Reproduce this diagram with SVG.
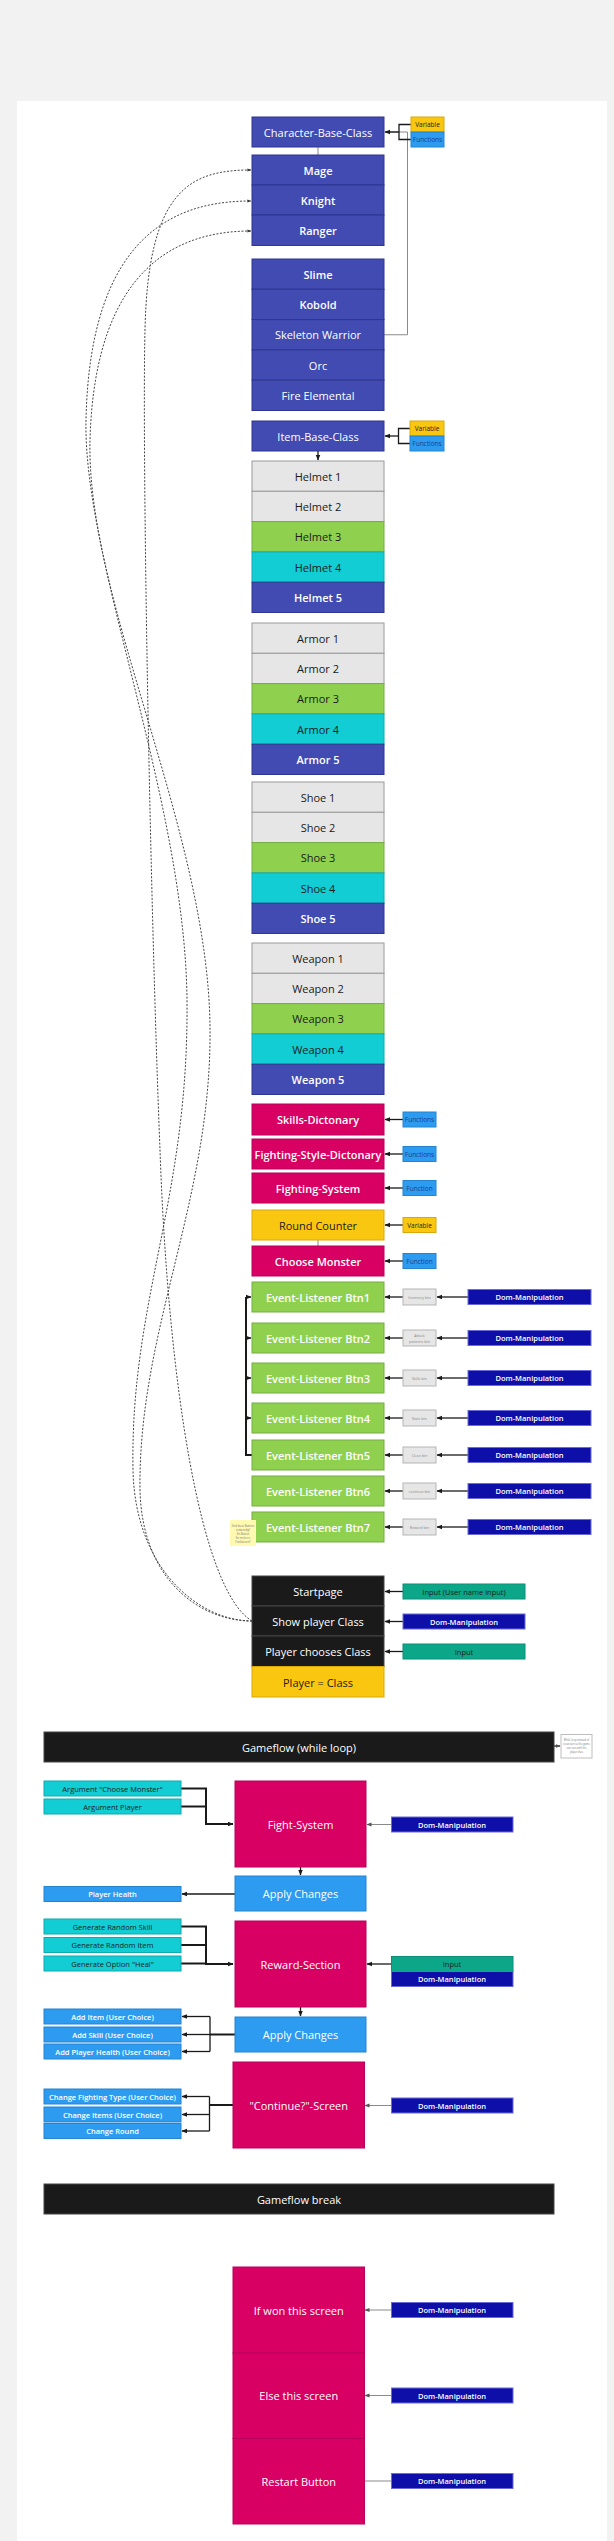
<svg xmlns="http://www.w3.org/2000/svg" width="614" height="2541" viewBox="0 0 614 2541">
<style>
text{font-family:"Open Sans","Liberation Sans",sans-serif;text-anchor:middle;dominant-baseline:central}
.s11{font-size:11px}
.s7{font-size:7.5px}
.s6{font-size:6.5px}
.tw{fill:#ffffff}
.td{fill:#1a1a1a}
.tb{fill:#1c3f8c}
.b6{font-weight:600}
.db{fill:#414bb2;stroke:#2f3590;stroke-width:1}
.gr{fill:#e6e6e6;stroke:#9a9a9a;stroke-width:1}
.gn{fill:#8fd14f;stroke:#76ad42;stroke-width:1}
.cy{fill:#12cdd4;stroke:#0fa9ae;stroke-width:1}
.mg{fill:#d80062;stroke:#b8005a;stroke-width:1}
.ye{fill:#fac710;stroke:#d9a80c;stroke-width:1}
.bl{fill:#2d9bf0;stroke:#2584cf;stroke-width:1}
.nv{fill:#0e0ea8;stroke:#6a6ad8;stroke-width:1}
.tl{fill:#0ca789;stroke:#0b8f76;stroke-width:1}
.bk{fill:#1a1a1a;stroke:#444444;stroke-width:1}
.sm{fill:#e6e6e6;stroke:#b5b5b5;stroke-width:1}
.c{fill:none;stroke:#1a1a1a;stroke-width:1.3}
.cg{fill:none;stroke:#8a8a8a;stroke-width:1}
.ct{fill:none;stroke:#1a1a1a;stroke-width:2}
.dash{fill:none;stroke:#444444;stroke-width:1;stroke-dasharray:2 1.6}
</style>
<defs>
<marker id="ah" viewBox="0 0 10 10" refX="9" refY="5" markerWidth="6" markerHeight="6" markerUnits="userSpaceOnUse" orient="auto"><path d="M0,1 L10,5 L0,9 z" fill="#1a1a1a"/></marker>
<marker id="ahg" viewBox="0 0 10 10" refX="9" refY="5" markerWidth="5" markerHeight="5" markerUnits="userSpaceOnUse" orient="auto"><path d="M0,1 L10,5 L0,9 z" fill="#555555"/></marker>
<marker id="ahs" viewBox="0 0 10 10" refX="9" refY="5" markerWidth="4" markerHeight="4" markerUnits="userSpaceOnUse" orient="auto"><path d="M0,1 L10,5 L0,9 z" fill="#3a3a3a"/></marker>
</defs>
<rect x="0" y="0" width="614" height="2541" fill="#f2f2f2"/>
<rect x="17" y="101" width="590" height="2440" fill="#ffffff"/>

<g id="connectors">
<path class="cg" d="M384,334.75 H407.5 V132 H386"/>
<path class="c" d="M411,124.5 H399 V139.5 H411"/>
<path class="c" d="M399,132 H385" marker-end="url(#ah)"/>
<path class="cg" d="M318,147 V155"/>
<path class="c" d="M410,428.5 H398.5 V443.5 H410"/>
<path class="c" d="M398.5,436 H385" marker-end="url(#ah)"/>
<path class="c" d="M318,451 V460" marker-end="url(#ah)"/>
<path class="c" d="M403,1119.5 H385" marker-end="url(#ah)"/>
<path class="c" d="M403,1154 H385" marker-end="url(#ah)"/>
<path class="c" d="M403,1188 H385" marker-end="url(#ah)"/>
<path class="c" d="M403,1225 H385" marker-end="url(#ah)"/>
<path class="c" d="M403,1261 H385" marker-end="url(#ah)"/>
<path class="cg" d="M318,1240 V1246"/>
<path class="c" d="M468,1297 H437" marker-end="url(#ah)"/>
<path class="c" d="M403,1297 H385" marker-end="url(#ah)"/>
<path class="c" d="M468,1338 H437" marker-end="url(#ah)"/>
<path class="c" d="M403,1338 H385" marker-end="url(#ah)"/>
<path class="c" d="M468,1378 H437" marker-end="url(#ah)"/>
<path class="c" d="M403,1378 H385" marker-end="url(#ah)"/>
<path class="c" d="M468,1418 H437" marker-end="url(#ah)"/>
<path class="c" d="M403,1418 H385" marker-end="url(#ah)"/>
<path class="c" d="M468,1455 H437" marker-end="url(#ah)"/>
<path class="c" d="M403,1455 H385" marker-end="url(#ah)"/>
<path class="c" d="M468,1491 H437" marker-end="url(#ah)"/>
<path class="c" d="M403,1491 H385" marker-end="url(#ah)"/>
<path class="c" d="M468,1527 H437" marker-end="url(#ah)"/>
<path class="c" d="M403,1527 H385" marker-end="url(#ah)"/>
<path class="ct" d="M252,1455 H246 V1297"/>
<path class="c" d="M246,1297 H251" marker-end="url(#ah)"/>
<path class="c" d="M246,1338 H251" marker-end="url(#ah)"/>
<path class="c" d="M246,1378 H251" marker-end="url(#ah)"/>
<path class="c" d="M246,1418 H251" marker-end="url(#ah)"/>
<path class="c" d="M403,1591.5 H385" marker-end="url(#ah)"/>
<path class="c" d="M403,1621.5 H385" marker-end="url(#ah)"/>
<path class="c" d="M403,1651.5 H385" marker-end="url(#ah)"/>
<path class="c" d="M554,1746 H560" marker-end="url(#ahg)"/>
<path class="ct" d="M181,1788.5 H206 V1824 H233" marker-end="url(#ah)"/>
<path class="ct" d="M181,1806.5 H206"/>
<path class="cg" d="M391,1824.5 H367" marker-end="url(#ahg)"/>
<path class="c" d="M300.5,1867 V1875" marker-end="url(#ah)"/>
<path class="c" d="M235,1894 H182" marker-end="url(#ah)"/>
<path class="ct" d="M181,1926.5 H206 V1964 H233" marker-end="url(#ah)"/>
<path class="ct" d="M181,1945 H206"/>
<path class="ct" d="M181,1963.5 H206"/>
<path class="c" d="M391,1964 H367" marker-end="url(#ah)"/>
<path class="c" d="M300.5,2007 V2016" marker-end="url(#ah)"/>
<path class="ct" d="M235,2034.5 H210"/>
<path class="c" d="M210,2016.5 V2051.5"/>
<path class="c" d="M210,2016.5 H182" marker-end="url(#ah)"/>
<path class="c" d="M210,2034.5 H182" marker-end="url(#ah)"/>
<path class="c" d="M210,2051.5 H182" marker-end="url(#ah)"/>
<path class="ct" d="M233,2105 H209.5"/>
<path class="c" d="M209.5,2096.5 V2131"/>
<path class="c" d="M209.5,2096.5 H182" marker-end="url(#ah)"/>
<path class="c" d="M209.5,2114.5 H182" marker-end="url(#ah)"/>
<path class="c" d="M209.5,2131 H182" marker-end="url(#ah)"/>
<path class="cg" d="M391,2105.5 H365" marker-end="url(#ahg)"/>
<path class="cg" d="M391,2310 H365" marker-end="url(#ahg)"/>
<path class="cg" d="M391,2395.5 H365" marker-end="url(#ahg)"/>
<path class="cg" d="M391,2481 H365"/>
<path class="dash" d="M252,1621 C200,1590 168,1380 160,1150 C150,900 142,450 145,330 C148,190 190,170 251,170" marker-end="url(#ahs)"/>
<path class="dash" d="M252,1621 C200,1621 135,1570 133,1470 C130,1300 189,1200 187,1000 C185,800 83,560 86,420 C90,230 180,201 251,201" marker-end="url(#ahs)"/>
<path class="dash" d="M252,1621 C200,1621 142,1580 140,1490 C138,1330 212,1200 210,1027 C208,830 86,600 90,440 C95,260 185,231 251,231" marker-end="url(#ahs)"/>
</g>

<g id="character-base-class"><rect class="db" x="252" y="117" width="132" height="30"/><text class="s11 tw" x="318" y="132">Character-Base-Class</text></g>
<g id="cbc-variable"><rect class="ye" x="411" y="117" width="33" height="15"/><text class="s6 td" x="427.5" y="124.5">Variable</text></g>
<g id="cbc-functions"><rect class="bl" x="411" y="132" width="33" height="15"/><text class="s6 tb" x="427.5" y="139.5">Functions</text></g>
<g id="mage"><rect class="db" x="252" y="155" width="132" height="30"/><text class="s11 tw b6" x="318" y="170">Mage</text></g>
<g id="knight"><rect class="db" x="252" y="185" width="132" height="30"/><text class="s11 tw b6" x="318" y="200">Knight</text></g>
<g id="ranger"><rect class="db" x="252" y="215" width="132" height="30.5"/><text class="s11 tw b6" x="318" y="230">Ranger</text></g>
<g id="slime"><rect class="db" x="252" y="259" width="132" height="30.3"/><text class="s11 tw b6" x="318" y="274">Slime</text></g>
<g id="kobold"><rect class="db" x="252" y="289.3" width="132" height="30.3"/><text class="s11 tw b6" x="318" y="304.5">Kobold</text></g>
<g id="skeleton-warrior"><rect class="db" x="252" y="319.6" width="132" height="30.3"/><text class="s11 tw" x="318" y="334.8">Skeleton Warrior</text></g>
<g id="orc"><rect class="db" x="252" y="349.9" width="132" height="30.3"/><text class="s11 tw" x="318" y="365">Orc</text></g>
<g id="fire-elemental"><rect class="db" x="252" y="380.2" width="132" height="30.3"/><text class="s11 tw" x="318" y="395.3">Fire Elemental</text></g>

<g id="item-base-class"><rect class="db" x="252" y="421" width="132" height="30"/><text class="s11 tw" x="318" y="436">Item-Base-Class</text></g>
<g id="ibc-variable"><rect class="ye" x="410" y="421" width="34" height="15"/><text class="s6 td" x="427" y="428.5">Variable</text></g>
<g id="ibc-functions"><rect class="bl" x="410" y="436" width="34" height="15"/><text class="s6 tb" x="427" y="443.5">Functions</text></g>

<g id="helmet-1"><rect class="gr" x="252" y="461" width="132" height="30.3"/><text class="s11 td" x="318" y="476.2">Helmet 1</text></g>
<g id="helmet-2"><rect class="gr" x="252" y="491.3" width="132" height="30.3"/><text class="s11 td" x="318" y="506.5">Helmet 2</text></g>
<g id="helmet-3"><rect class="gn" x="252" y="521.6" width="132" height="30.3"/><text class="s11 td" x="318" y="536.8">Helmet 3</text></g>
<g id="helmet-4"><rect class="cy" x="252" y="551.9" width="132" height="30.3"/><text class="s11 td" x="318" y="567.1">Helmet 4</text></g>
<g id="helmet-5"><rect class="db" x="252" y="582.2" width="132" height="30.3"/><text class="s11 tw b6" x="318" y="597.4">Helmet 5</text></g>

<g id="armor-1"><rect class="gr" x="252" y="623" width="132" height="30.3"/><text class="s11 td" x="318" y="638.2">Armor 1</text></g>
<g id="armor-2"><rect class="gr" x="252" y="653.3" width="132" height="30.3"/><text class="s11 td" x="318" y="668.5">Armor 2</text></g>
<g id="armor-3"><rect class="gn" x="252" y="683.6" width="132" height="30.3"/><text class="s11 td" x="318" y="698.8">Armor 3</text></g>
<g id="armor-4"><rect class="cy" x="252" y="713.9" width="132" height="30.3"/><text class="s11 td" x="318" y="729.1">Armor 4</text></g>
<g id="armor-5"><rect class="db" x="252" y="744.2" width="132" height="30.3"/><text class="s11 tw b6" x="318" y="759.4">Armor 5</text></g>

<g id="shoe-1"><rect class="gr" x="252" y="782" width="132" height="30.3"/><text class="s11 td" x="318" y="797.2">Shoe 1</text></g>
<g id="shoe-2"><rect class="gr" x="252" y="812.3" width="132" height="30.3"/><text class="s11 td" x="318" y="827.5">Shoe 2</text></g>
<g id="shoe-3"><rect class="gn" x="252" y="842.6" width="132" height="30.3"/><text class="s11 td" x="318" y="857.8">Shoe 3</text></g>
<g id="shoe-4"><rect class="cy" x="252" y="872.9" width="132" height="30.3"/><text class="s11 td" x="318" y="888.1">Shoe 4</text></g>
<g id="shoe-5"><rect class="db" x="252" y="903.2" width="132" height="30.3"/><text class="s11 tw b6" x="318" y="918.4">Shoe 5</text></g>

<g id="weapon-1"><rect class="gr" x="252" y="943" width="132" height="30.3"/><text class="s11 td" x="318" y="958.2">Weapon 1</text></g>
<g id="weapon-2"><rect class="gr" x="252" y="973.3" width="132" height="30.3"/><text class="s11 td" x="318" y="988.5">Weapon 2</text></g>
<g id="weapon-3"><rect class="gn" x="252" y="1003.6" width="132" height="30.3"/><text class="s11 td" x="318" y="1018.8">Weapon 3</text></g>
<g id="weapon-4"><rect class="cy" x="252" y="1033.9" width="132" height="30.3"/><text class="s11 td" x="318" y="1049.1">Weapon 4</text></g>
<g id="weapon-5"><rect class="db" x="252" y="1064.2" width="132" height="30.3"/><text class="s11 tw b6" x="318" y="1079.4">Weapon 5</text></g>

<g id="skills-dictonary"><rect class="mg" x="252" y="1104" width="132" height="31"/><text class="s11 tw b6" x="318" y="1119.5">Skills-Dictonary</text></g>
<g id="skills-functions"><rect class="bl" x="403" y="1112" width="33" height="15"/><text class="s6 tb" x="419.5" y="1119.5">Functions</text></g>
<g id="fighting-style-dictonary"><rect class="mg" x="252" y="1139" width="132" height="30"/><text class="s11 tw b6" x="318" y="1154">Fighting-Style-Dictonary</text></g>
<g id="fsd-functions"><rect class="bl" x="403" y="1146.5" width="33" height="15"/><text class="s6 tb" x="419.5" y="1154">Functions</text></g>
<g id="fighting-system"><rect class="mg" x="252" y="1173" width="132" height="30"/><text class="s11 tw b6" x="318" y="1188">Fighting-System</text></g>
<g id="fs-function"><rect class="bl" x="403" y="1180.5" width="33" height="15"/><text class="s6 tb" x="419.5" y="1188">Function</text></g>
<g id="round-counter"><rect class="ye" x="252" y="1210" width="132" height="30"/><text class="s11 td" x="318" y="1225">Round Counter</text></g>
<g id="rc-variable"><rect class="ye" x="403" y="1217.5" width="33" height="15"/><text class="s6 td" x="419.5" y="1225">Variable</text></g>
<g id="choose-monster"><rect class="mg" x="252" y="1246" width="132" height="30"/><text class="s11 tw b6" x="318" y="1261">Choose Monster</text></g>
<g id="cm-function"><rect class="bl" x="403" y="1253.5" width="33" height="15"/><text class="s6 tb" x="419.5" y="1261">Function</text></g>

<g id="btn1"><rect class="gn" x="252" y="1282" width="132" height="30"/><text class="s11 tw b6" x="318" y="1297">Event-Listener Btn1</text></g>
<g id="btn1-label"><rect class="sm" x="403" y="1289" width="33" height="16"/><text x="419.5" y="1297" fill="#888" font-size="3.6">Inventory btn</text></g>
<g id="btn1-dom"><rect class="nv" x="468" y="1289.5" width="123" height="15"/><text class="s7 tw b6" x="529.5" y="1297">Dom-Manipulation</text></g>
<g id="btn2"><rect class="gn" x="252" y="1323" width="132" height="30"/><text class="s11 tw b6" x="318" y="1338">Event-Listener Btn2</text></g>
<g id="btn2-label"><rect class="sm" x="403" y="1330" width="33" height="16"/><text x="419.5" y="1335.5" fill="#888" font-size="3.6">Attack</text><text x="419.5" y="1341" fill="#888" font-size="3.6">patterns btn</text></g>
<g id="btn2-dom"><rect class="nv" x="468" y="1330.5" width="123" height="15"/><text class="s7 tw b6" x="529.5" y="1338">Dom-Manipulation</text></g>
<g id="btn3"><rect class="gn" x="252" y="1363" width="132" height="30"/><text class="s11 tw b6" x="318" y="1378">Event-Listener Btn3</text></g>
<g id="btn3-label"><rect class="sm" x="403" y="1370" width="33" height="16"/><text x="419.5" y="1378" fill="#888" font-size="3.6">Skills btn</text></g>
<g id="btn3-dom"><rect class="nv" x="468" y="1370.5" width="123" height="15"/><text class="s7 tw b6" x="529.5" y="1378">Dom-Manipulation</text></g>
<g id="btn4"><rect class="gn" x="252" y="1403" width="132" height="30"/><text class="s11 tw b6" x="318" y="1418">Event-Listener Btn4</text></g>
<g id="btn4-label"><rect class="sm" x="403" y="1410" width="33" height="16"/><text x="419.5" y="1418" fill="#888" font-size="3.6">Stats btn</text></g>
<g id="btn4-dom"><rect class="nv" x="468" y="1410.5" width="123" height="15"/><text class="s7 tw b6" x="529.5" y="1418">Dom-Manipulation</text></g>
<g id="btn5"><rect class="gn" x="252" y="1440" width="132" height="30"/><text class="s11 tw b6" x="318" y="1455">Event-Listener Btn5</text></g>
<g id="btn5-label"><rect class="sm" x="403" y="1447" width="33" height="16"/><text x="419.5" y="1455" fill="#888" font-size="3.6">Close btn</text></g>
<g id="btn5-dom"><rect class="nv" x="468" y="1447.5" width="123" height="15"/><text class="s7 tw b6" x="529.5" y="1455">Dom-Manipulation</text></g>
<g id="btn6"><rect class="gn" x="252" y="1476" width="132" height="30"/><text class="s11 tw b6" x="318" y="1491">Event-Listener Btn6</text></g>
<g id="btn6-label"><rect class="sm" x="403" y="1483" width="33" height="16"/><text x="419.5" y="1491" fill="#888" font-size="3.6">continue btn</text></g>
<g id="btn6-dom"><rect class="nv" x="468" y="1483.5" width="123" height="15"/><text class="s7 tw b6" x="529.5" y="1491">Dom-Manipulation</text></g>
<g id="btn7"><rect class="gn" x="252" y="1512" width="132" height="30"/><text class="s11 tw b6" x="318" y="1527">Event-Listener Btn7</text></g>
<g id="btn7-label"><rect class="sm" x="403" y="1519" width="33" height="16"/><text x="419.5" y="1527" fill="#888" font-size="3.6">Reward btn</text></g>
<g id="btn7-dom"><rect class="nv" x="468" y="1519.5" width="123" height="15"/><text class="s7 tw b6" x="529.5" y="1527">Dom-Manipulation</text></g>
<g id="sticky-note"><rect x="230" y="1520" width="26" height="26" fill="#fff9b1"/><text x="243" y="1526" fill="#777" font-size="2.6">Sind diese Buttons</text><text x="243" y="1530" fill="#777" font-size="2.6">notwendig?</text><text x="243" y="1534" fill="#777" font-size="2.6">Ein Button</text><text x="243" y="1538" fill="#777" font-size="2.6">für mehrere</text><text x="243" y="1542" fill="#777" font-size="2.6">Funktionen?</text></g>

<g id="startpage"><rect class="bk" x="252" y="1576" width="132" height="30"/><text class="s11 tw" x="318" y="1591">Startpage</text></g>
<g id="startpage-input"><rect class="tl" x="403" y="1584" width="122" height="15"/><text class="s7 td" x="464" y="1591.5">Input (User name input)</text></g>
<g id="show-player-class"><rect class="bk" x="252" y="1606" width="132" height="30"/><text class="s11 tw" x="318" y="1621">Show player Class</text></g>
<g id="show-dom"><rect class="nv" x="403" y="1614" width="122" height="15"/><text class="s7 tw b6" x="464" y="1621.5">Dom-Manipulation</text></g>
<g id="player-chooses-class"><rect class="bk" x="252" y="1636" width="132" height="30.5"/><text class="s11 tw" x="318" y="1651.5">Player chooses Class</text></g>
<g id="choose-input"><rect class="tl" x="403" y="1644" width="122" height="15"/><text class="s7 td" x="464" y="1651.5">Input</text></g>
<g id="player-class"><rect class="ye" x="252" y="1666.5" width="132" height="30.5"/><text class="s11 td" x="318" y="1682">Player = Class</text></g>

<g id="gameflow-loop"><rect class="bk" x="44" y="1732" width="510" height="30"/><text class="s11 tw" x="299" y="1747">Gameflow (while loop)</text></g>
<g id="gameflow-note"><rect x="561" y="1734.5" width="31" height="23.5" fill="#ffffff" stroke="#bdbdbd"/><text x="576.5" y="1740" fill="#777" font-size="2.6">While loop instead of</text><text x="576.5" y="1744" fill="#777" font-size="2.6">recursion so the game</text><text x="576.5" y="1748" fill="#777" font-size="2.6">can run until the</text><text x="576.5" y="1752" fill="#777" font-size="2.6">player dies</text></g>

<g id="fight-system"><rect class="mg" x="235" y="1781" width="131" height="86"/><text class="s11 tw" x="300.5" y="1824">Fight-System</text></g>
<g id="arg-monster"><rect class="cy" x="44" y="1781" width="137" height="15"/><text class="s7 td" x="112.5" y="1788.5">Argument "Choose Monster"</text></g>
<g id="arg-player"><rect class="cy" x="44" y="1799" width="137" height="15"/><text class="s7 td" x="112.5" y="1806.5">Argument Player</text></g>
<g id="fight-dom"><rect class="nv" x="391.5" y="1817" width="121.5" height="15"/><text class="s7 tw b6" x="452" y="1824.5">Dom-Manipulation</text></g>
<g id="apply-changes-1"><rect class="bl" x="235" y="1876" width="131" height="35"/><text class="s11 tw" x="300.5" y="1893.5">Apply Changes</text></g>
<g id="player-health"><rect class="bl" x="44" y="1886.5" width="137" height="15"/><text class="s7 tw b6" x="112.5" y="1894">Player Health</text></g>
<g id="reward-section"><rect class="mg" x="235" y="1921" width="131" height="86"/><text class="s11 tw" x="300.5" y="1964">Reward-Section</text></g>
<g id="gen-skill"><rect class="cy" x="44" y="1919" width="137" height="15"/><text class="s7 td" x="112.5" y="1926.5">Generate Random Skill</text></g>
<g id="gen-item"><rect class="cy" x="44" y="1937.5" width="137" height="15"/><text class="s7 td" x="112.5" y="1945">Generate Random Item</text></g>
<g id="gen-heal"><rect class="cy" x="44" y="1956" width="137" height="15"/><text class="s7 td" x="112.5" y="1963.5">Generate Option "Heal"</text></g>
<g id="reward-input"><rect class="tl" x="391.5" y="1956.5" width="121.5" height="15"/><text class="s7 td" x="452" y="1964">Input</text></g>
<g id="reward-dom"><rect class="nv" x="391.5" y="1971.5" width="121.5" height="15"/><text class="s7 tw b6" x="452" y="1979">Dom-Manipulation</text></g>
<g id="apply-changes-2"><rect class="bl" x="235" y="2017" width="131" height="35"/><text class="s11 tw" x="300.5" y="2034.5">Apply Changes</text></g>
<g id="add-item"><rect class="bl" x="44" y="2009" width="137" height="15"/><text class="s7 tw b6" x="112.5" y="2016.5">Add Item (User Choice)</text></g>
<g id="add-skill"><rect class="bl" x="44" y="2027" width="137" height="15"/><text class="s7 tw b6" x="112.5" y="2034.5">Add Skill (User Choice)</text></g>
<g id="add-health"><rect class="bl" x="44" y="2044" width="137" height="15"/><text class="s7 tw b6" x="112.5" y="2051.5">Add Player Health (User Choice)</text></g>
<g id="continue-screen"><rect class="mg" x="233" y="2062" width="131.5" height="86"/><text class="s11 tw" x="298.75" y="2105">"Continue?"-Screen</text></g>
<g id="change-fighting"><rect class="bl" x="44" y="2089" width="137" height="15"/><text class="s7 tw b6" x="112.5" y="2096.5">Change Fighting Type (User Choice)</text></g>
<g id="change-items"><rect class="bl" x="44" y="2107" width="137" height="15"/><text class="s7 tw b6" x="112.5" y="2114.5">Change Items (User Choice)</text></g>
<g id="change-round"><rect class="bl" x="44" y="2123.5" width="137" height="15"/><text class="s7 tw b6" x="112.5" y="2131">Change Round</text></g>
<g id="continue-dom"><rect class="nv" x="391.5" y="2098" width="121.5" height="15"/><text class="s7 tw b6" x="452" y="2105.5">Dom-Manipulation</text></g>

<g id="gameflow-break"><rect class="bk" x="44" y="2184" width="510" height="30"/><text class="s11 tw" x="299" y="2199">Gameflow break</text></g>
<g id="if-won"><rect class="mg" x="233" y="2267" width="131.5" height="86"/><text class="s11 tw" x="298.75" y="2310">If won this screen</text></g>
<g id="won-dom"><rect class="nv" x="391.5" y="2302.5" width="121.5" height="15"/><text class="s7 tw b6" x="452" y="2310">Dom-Manipulation</text></g>
<g id="else-screen"><rect class="mg" x="233" y="2353" width="131.5" height="85.5"/><text class="s11 tw" x="298.75" y="2395.5">Else this screen</text></g>
<g id="else-dom"><rect class="nv" x="391.5" y="2388" width="121.5" height="15"/><text class="s7 tw b6" x="452" y="2395.5">Dom-Manipulation</text></g>
<g id="restart"><rect class="mg" x="233" y="2438.5" width="131.5" height="85.5"/><text class="s11 tw" x="298.75" y="2481">Restart Button</text></g>
<g id="restart-dom"><rect class="nv" x="391.5" y="2473.5" width="121.5" height="15"/><text class="s7 tw b6" x="452" y="2481">Dom-Manipulation</text></g>
</svg>
